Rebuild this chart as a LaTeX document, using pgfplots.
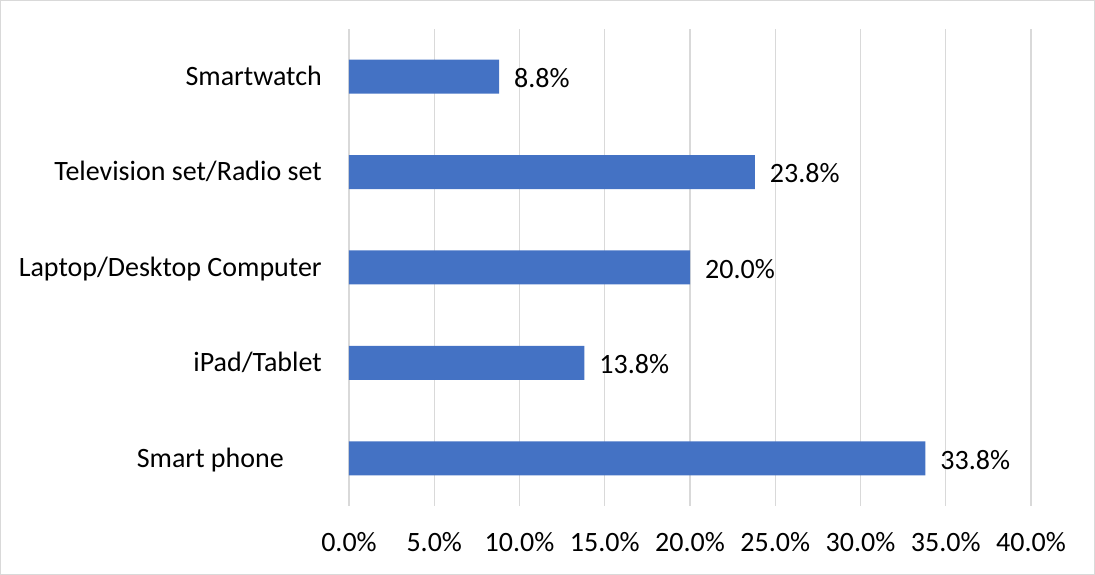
\documentclass[border=0pt]{standalone}
\usepackage{pgfplots}
\pgfplotsset{compat=1.18}
\usepackage{fontspec}
\setmainfont{Carlito}
\definecolor{barblue}{HTML}{4472C4}
\definecolor{gridgray}{HTML}{D9D9D9}
\newcommand\cf{\fontsize{28}{33}\selectfont}
\begin{document}
\begin{tikzpicture}[x=1pt,y=1pt]
\draw[color=gridgray, line width=1.2pt] (0.6,0.6) rectangle (1094.4,574.4);
\begin{axis}[
  at={(349pt,69pt)}, anchor=south west,
  scale only axis, width=682pt, height=477pt,
  xbar, bar width=34pt,
  xmin=0, xmax=40, ymin=-0.5, ymax=4.5,
  xtick={0,5,...,40}, ytick={0,1,2,3,4},
  yticklabels={{Smart phone\hspace*{38pt}},{iPad/Tablet},{Laptop/Desktop Computer},{Television set/Radio set},{Smartwatch}},
  xticklabel={\pgfmathprintnumber[fixed,fixed zerofill,precision=1]{\tick}\%},
  axis line style={draw=none}, major tick length=0pt,
  xmajorgrids, grid style={color=gridgray, line width=1.2pt},
  tick label style={font=\cf, inner sep=0pt, text height=17.8pt, text depth=0pt},
  yticklabel style={anchor=east, xshift=-27pt},
  xticklabel style={anchor=north, yshift=-27.3pt},
  /pgf/number format/assume math mode=true,
  clip=false,
]
\addplot[fill=barblue, draw=none,
  nodes near coords={\pgfmathprintnumber[fixed,fixed zerofill,precision=1]{\pgfplotspointmeta}\%},
  nodes near coords style={font=\cf, anchor=west, inner sep=0pt, xshift=15pt, yshift=-2pt, text height=17.8pt, text depth=0pt},
  point meta=explicit symbolic]
  coordinates {(33.8,0) [33.8] (13.8,1) [13.8] (20.0,2) [20.0] (23.8,3) [23.8] (8.8,4) [8.8]};
\end{axis}
\end{tikzpicture}
\end{document}
